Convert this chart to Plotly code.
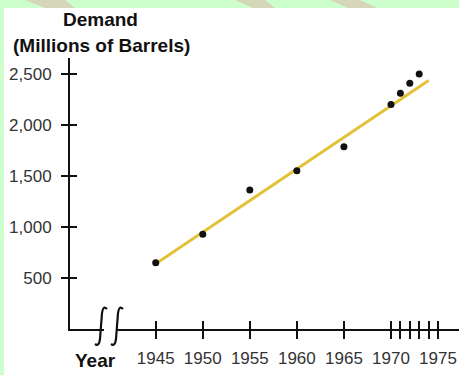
import plotly.graph_objects as go

# U.S. oil demand by year (millions of barrels)
years = [1945, 1950, 1955, 1960, 1965, 1970, 1971, 1972, 1973]
demand = [650, 930, 1365, 1555, 1790, 2205, 2315, 2415, 2505]

# fitted trend line end points
trend_years = [1945, 1974]
trend_demand = [640, 2440]

# axis ticks
x_tick_years = [1945, 1950, 1955, 1960, 1965, 1970, 1971, 1972, 1973, 1974, 1975]
x_tick_labels = ["1945", "1950", "1955", "1960", "1965", "1970", "", "", "", "", "1975"]
y_tick_values = [500, 1000, 1500, 2000, 2500]
y_tick_labels = ["500", "1,000", "1,500", "2,000", "2,500"]

W, H = 459, 375
ML, MR, MT, MB = 70, 0, 58, 46
PW, PH = W - ML - MR, H - MT - MB

FONT = "Liberation Sans, Arial, sans-serif"
INK = "#111111"


def px(x):
    """figure pixel x -> paper (plot-area) fraction"""
    return (x - ML) / PW


def py(y):
    """figure pixel y -> paper (plot-area) fraction"""
    return (H - MB - y) / PH


fig = go.Figure()

fig.add_trace(go.Scatter(
    x=trend_years, y=trend_demand, mode="lines",
    line=dict(color="#E3C23A", width=3), hoverinfo="skip", showlegend=False,
))
fig.add_trace(go.Scatter(
    x=years, y=demand, mode="markers",
    marker=dict(color="#111111", size=7), showlegend=False,
))
# invisible trace that carries the second (inward-tick) axes
fig.add_trace(go.Scatter(
    x=[years[0]], y=[demand[0]], xaxis="x2", yaxis="y2",
    mode="markers", marker=dict(opacity=0), hoverinfo="skip", showlegend=False,
))

x_range = [1935.89, 1977.23]
y_range = [0, 2662]

axis_common = dict(showgrid=False, zeroline=False, linecolor=INK, linewidth=2,
                   tickcolor=INK, tickwidth=2)

shapes = []
# white page with a thin green border
shapes.append(dict(type="rect", xref="paper", yref="paper", layer="below",
                   x0=px(4), x1=px(W + 5), y0=py(H + 5), y1=py(8),
                   fillcolor="white", line=dict(width=0)))
# tan stripes across the top border
for a, b, c, d in [(25, 65, 75, 45), (235, 265, 275, 253), (330, 360, 378, 348)]:
    shapes.append(dict(
        type="path", xref="paper", yref="paper", layer="below",
        path=f"M {px(a)},{py(0)} L {px(b)},{py(0)} L {px(c)},{py(8)} L {px(d)},{py(8)} Z",
        fillcolor="#D6D6BA", line=dict(width=0)))
# axis break on the year axis
shapes.append(dict(type="rect", xref="paper", yref="paper", layer="above",
                   x0=px(104), x1=px(116), y0=py(332), y1=py(326),
                   fillcolor="white", line=dict(width=0)))
for dx in (0, 16):
    x0 = 96 + dx
    path = (f"M {px(x0 + 11)},{py(309)} "
            f"Q {px(x0 + 7)},{py(305)} {px(x0 + 6)},{py(313)} "
            f"L {px(x0 + 4)},{py(339)} "
            f"Q {px(x0 + 3)},{py(347)} {px(x0 - 1)},{py(344)}")
    shapes.append(dict(type="path", xref="paper", yref="paper", layer="above",
                       path=path, line=dict(color=INK, width=2.2)))

title_font = dict(family=FONT, size=19, color=INK)
annotations = [
    dict(text="<b>Demand</b>", x=px(100), y=py(20), xref="paper", yref="paper",
         xanchor="center", yanchor="middle", showarrow=False, font=title_font),
    dict(text="<b>(Millions of Barrels)</b>", x=px(101), y=py(46), xref="paper", yref="paper",
         xanchor="center", yanchor="middle", showarrow=False, font=title_font),
    dict(text="<b>Year</b>", x=px(95), y=py(360), xref="paper", yref="paper",
         xanchor="center", yanchor="middle", showarrow=False, font=title_font),
]

fig.update_layout(
    width=W, height=H,
    margin=dict(l=ML, r=MR, t=MT, b=MB),
    paper_bgcolor="#CCFFCC", plot_bgcolor="rgba(0,0,0,0)",
    font=dict(family=FONT, size=17, color="#333333"),
    xaxis=dict(range=x_range, tickmode="array", tickvals=x_tick_years, ticktext=x_tick_labels,
               showline=True, ticks="outside", ticklen=8, ticklabelstandoff=5,
               tickfont=dict(size=17, color="#333333"), **axis_common),
    xaxis2=dict(range=x_range, overlaying="x", anchor="y", side="bottom",
                tickmode="array", tickvals=x_tick_years, showticklabels=False,
                showline=False, ticks="inside", ticklen=8, **axis_common),
    yaxis=dict(range=y_range, tickmode="array", tickvals=y_tick_values, ticktext=y_tick_labels,
               showline=True, ticks="outside", ticklen=7, ticklabelstandoff=6,
               tickfont=dict(size=17, color="#333333"), **axis_common),
    yaxis2=dict(range=y_range, overlaying="y", anchor="x", side="left",
                tickmode="array", tickvals=y_tick_values, showticklabels=False,
                showline=False, ticks="inside", ticklen=7, **axis_common),
    shapes=shapes, annotations=annotations,
)

fig.write_html("out.html")
